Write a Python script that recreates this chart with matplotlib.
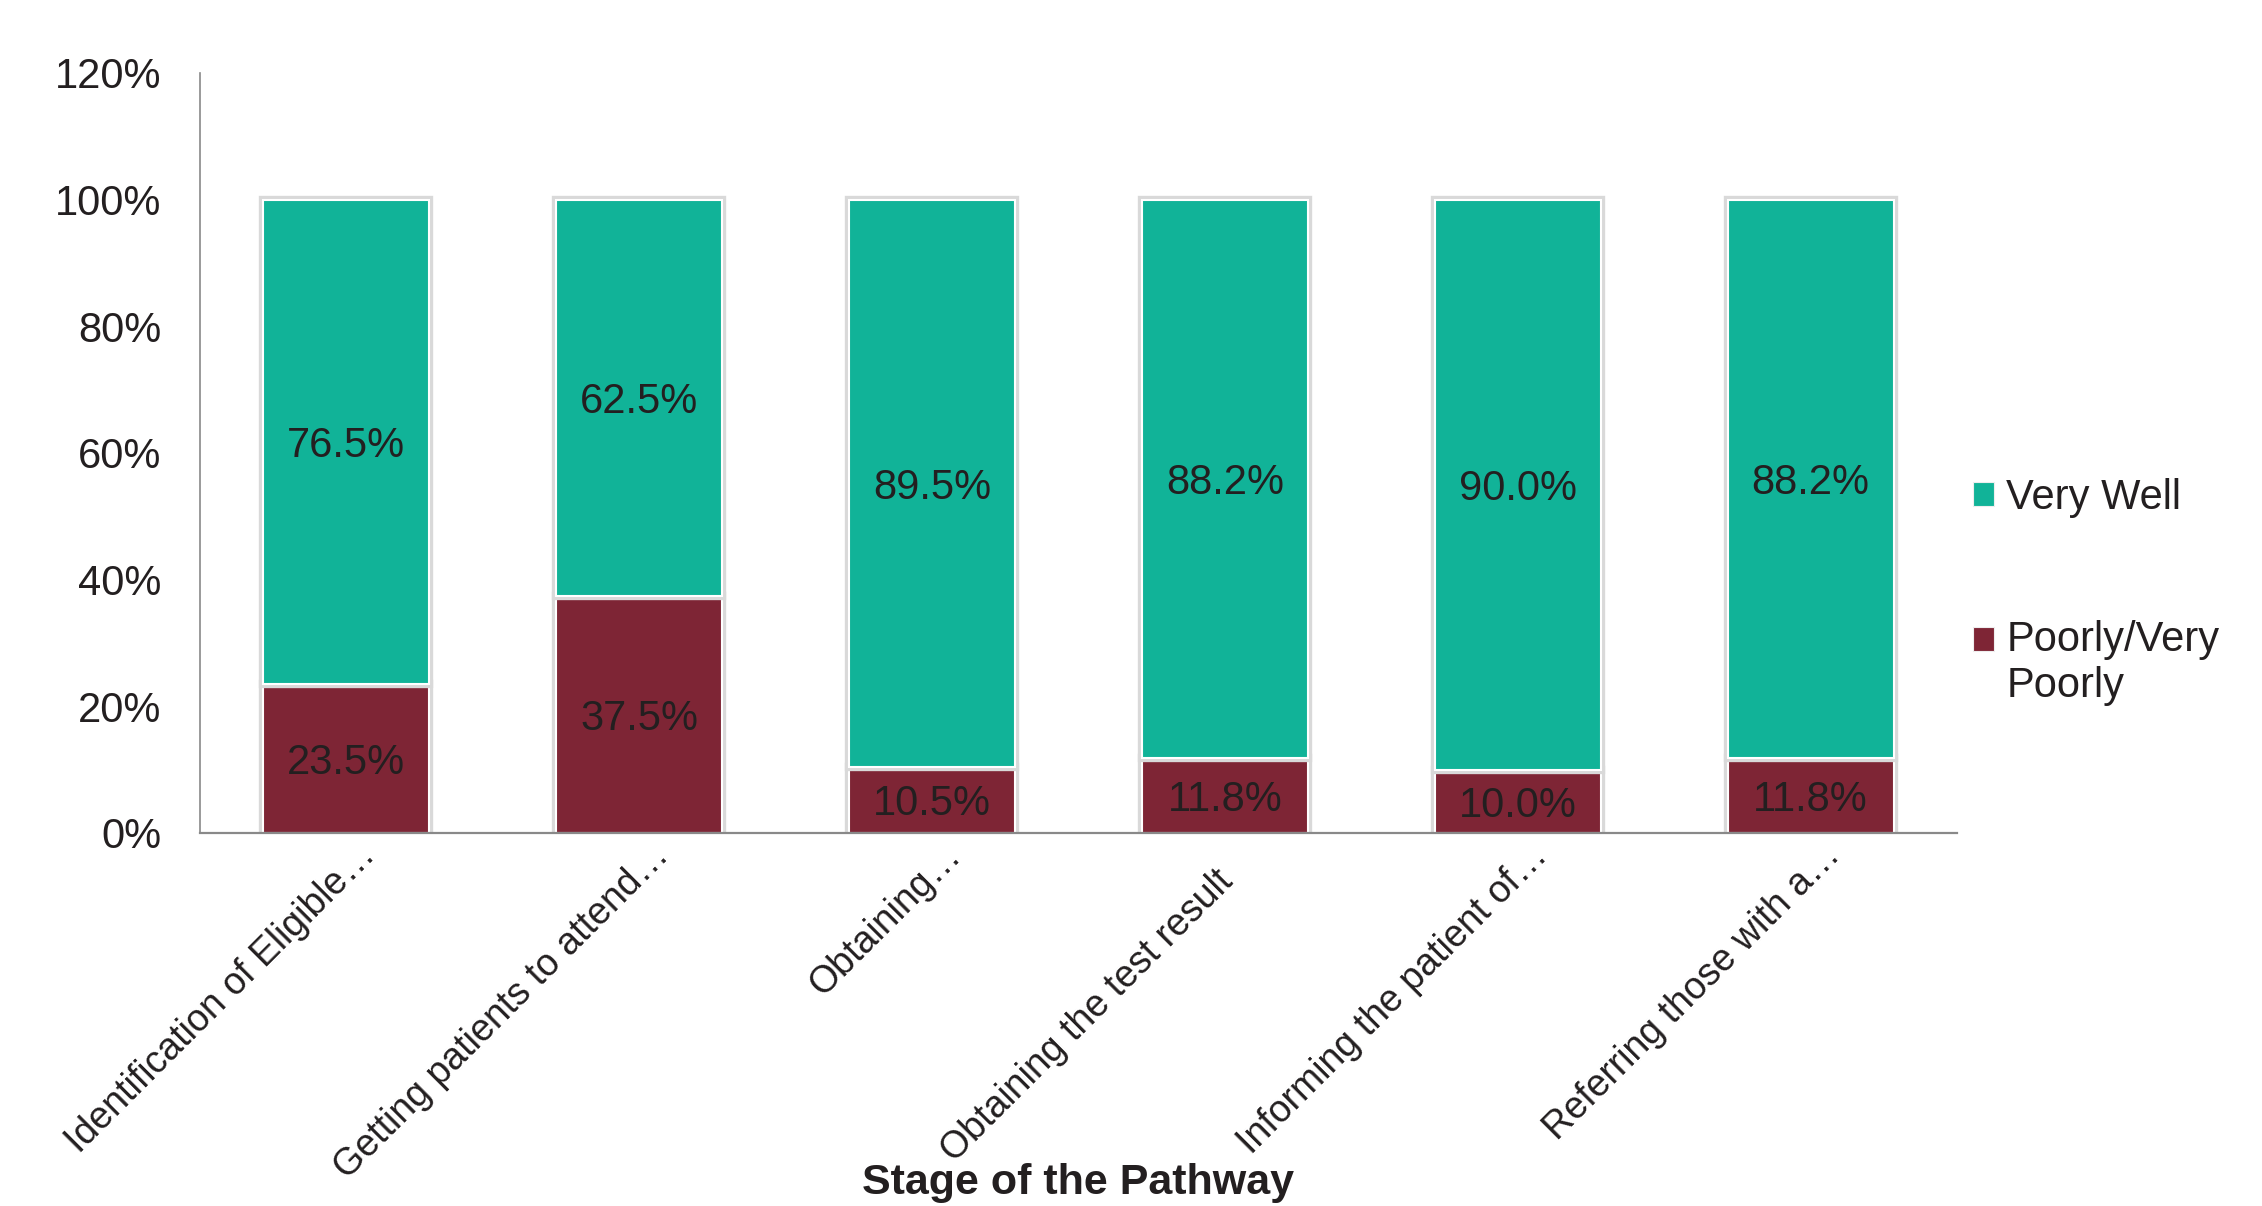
import matplotlib
matplotlib.use("Agg")
import matplotlib.pyplot as plt
import matplotlib.transforms as mtransforms
import matplotlib.patheffects as pe
from matplotlib.patches import Rectangle
from matplotlib.legend_handler import HandlerPatch
import numpy as np

plt.rcParams['font.family'] = ['Liberation Sans', 'DejaVu Sans']

categories = ["Identification of Eligible\u2026", "Getting patients to attend\u2026",
              "Obtaining\u2026", "Obtaining the test result",
              "Informing the patient of\u2026", "Referring those with a\u2026"]
poorly = [23.5, 37.5, 10.5, 11.8, 10.0, 11.8]
very_well = [76.5, 62.5, 89.5, 88.2, 90.0, 88.2]
series_names = ["Very Well", "Poorly/Very\nPoorly"]
yticks = [0, 20, 40, 60, 80, 100, 120]
xlabel = "Stage of the Pathway"

TEAL = "#11B398"
MAROON = "#7E2535"
TXT = "#231F20"
GREY = "#898989"

W, H, DPI = 2262, 1206, 100
fig = plt.figure(figsize=(W / DPI, H / DPI), dpi=DPI)
ax = fig.add_axes([200 / W, 1 - 833 / H, (1957 - 200) / W, (833 - 73) / H])

x = np.arange(len(categories))
pw = np.array(poorly) / 100
vw = np.array(very_well) / 100
bw = 0.567
shadow = [pe.Stroke(linewidth=6, foreground="#d9d9d9"), pe.Normal()]
b1 = ax.bar(x, pw, bw, color=MAROON, edgecolor="white", linewidth=1.5, zorder=3)
b2 = ax.bar(x, vw, bw, bottom=pw, color=TEAL, edgecolor="white", linewidth=1.5, zorder=3)
for r in list(b1) + list(b2):
    r.set_path_effects(shadow)

for xi, p, v in zip(x, poorly, very_well):
    ax.text(xi, p / 200, f"{p:.1f}%", ha="center", va="center_baseline",
            fontsize=30, color=TXT, zorder=5)
    ax.text(xi, p / 100 + v / 200, f"{v:.1f}%", ha="center", va="center_baseline",
            fontsize=30, color=TXT, zorder=5)

ax.set_xlim(-0.5, len(categories) - 0.5)
ax.set_ylim(0, 1.2)
ax.set_yticks([t / 100 for t in yticks])
ax.set_yticklabels([f"{t}%" for t in yticks], fontsize=30, color=TXT)
ax.tick_params(axis="y", length=0, pad=28)
ax.set_xticks(x)
ax.set_xticklabels(categories, rotation=45, ha="right", va="baseline",
                   rotation_mode="anchor", fontsize=27, color=TXT)
ax.tick_params(axis="x", length=0, pad=0)
for lab in ax.get_xticklabels():
    if lab.get_text().endswith("\u2026"):
        dx, dy = 31, -24
    else:
        dx, dy = 10, -50
    off = mtransforms.ScaledTranslation(dx / DPI, dy / DPI, fig.dpi_scale_trans)
    lab.set_transform(lab.get_transform() + off)

for s in ["top", "right"]:
    ax.spines[s].set_visible(False)
ax.spines["left"].set_color(GREY)
ax.spines["left"].set_linewidth(1.2)
ax.spines["bottom"].set_color(GREY)
ax.spines["bottom"].set_linewidth(1.6)
ax.spines["bottom"].set_zorder(4)

fig.text(1078 / W, 1 - 1194 / H, xlabel, ha="center", va="baseline",
         fontsize=31, fontweight="bold", color=TXT)


def make_handler(shift):
    def f(legend, orig_handle, xdescent, ydescent, width, height, fontsize):
        return Rectangle((-xdescent, -ydescent + shift * fontsize), width, height)
    return HandlerPatch(patch_func=f)


h1 = Rectangle((0, 0), 1, 1, facecolor=TEAL, edgecolor="#eeeeee", linewidth=0.8)
h2 = Rectangle((0, 0), 1, 1, facecolor=MAROON, edgecolor="#eeeeee", linewidth=0.8)
leg = fig.legend([h1, h2], series_names, loc="upper left",
                 bbox_to_anchor=(1973 / W, 1 - 478 / H), frameon=False,
                 fontsize=30, handlelength=0.5, handleheight=0.5,
                 handletextpad=0.3, labelspacing=2.44, borderpad=0, borderaxespad=0,
                 handler_map={h1: make_handler(0), h2: make_handler(0.58)})
for t in leg.get_texts():
    t.set_color(TXT)
    t.set_linespacing(1.2)

fig.savefig("out.png", dpi=DPI)
